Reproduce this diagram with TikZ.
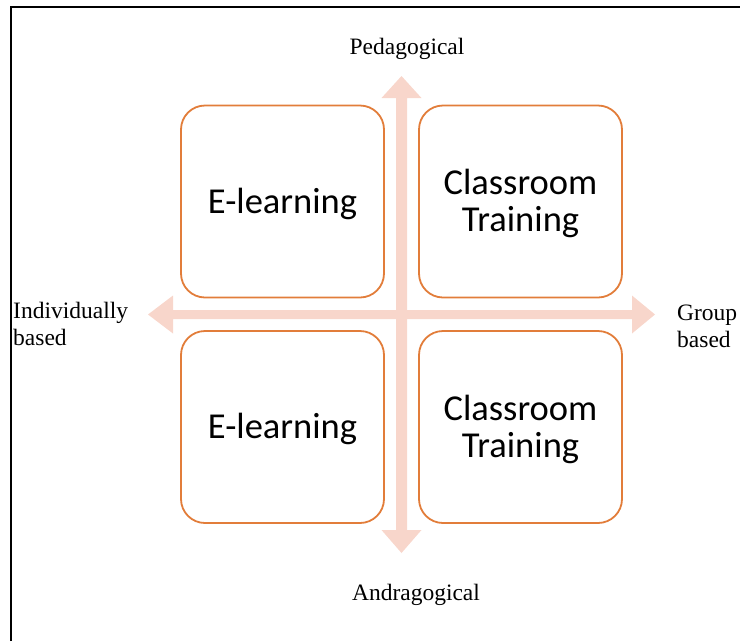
\documentclass[tikz,border=0pt]{standalone}
\usepackage{fontspec}
\setmainfont{Liberation Serif}
\newfontfamily\boxfont{Carlito}
\definecolor{arrowpeach}{RGB}{248,214,203}
\definecolor{boxorange}{RGB}{226,125,58}
\begin{document}
\begin{tikzpicture}[x=1pt,y=-1pt,
  quad/.style={draw=boxorange, fill=white, line width=1.8pt, rounded corners=24pt,
    minimum width=203pt, minimum height=192pt, align=center, inner sep=0pt,
    font=\boxfont\fontsize{36.5}{37}\selectfont},
  qtext/.style={align=center, inner sep=0pt, font=\boxfont\fontsize{36.5}{37}\selectfont},
  axislabel/.style={font=\fontsize{23.5}{27}\selectfont, inner sep=0pt}]
\useasboundingbox (0,0) rectangle (740,641);
% frame
\draw[line width=2pt] (11,641) -- (11,7) -- (740,7);
% axes
\fill[arrowpeach] (401.5,76) -- (421.5,98) -- (407,98) -- (407,530) -- (421.5,530)
  -- (401.5,553) -- (381.5,530) -- (396,530) -- (396,98) -- (381.5,98) -- cycle;
\fill[arrowpeach] (148,314.5) -- (173,295.5) -- (173,310) -- (632,310) -- (632,295.5)
  -- (655,314.5) -- (632,333.5) -- (632,319) -- (173,319) -- (173,333.5) -- cycle;
% quadrants
\node[quad] (tl) at (282.5,201.5) {};
\node[quad] (tr) at (520.5,201.5) {};
\node[quad] (bl) at (282.5,427) {};
\node[quad] (br) at (520.5,427) {};
\node[qtext, yshift=-2pt] (tlt) at (tl.center) {E-learning};
\node[qtext, yshift=-2pt] (trt) at (tr.center) {Classroom\\Training};
\node[qtext, yshift=-2pt] (blt) at (bl.center) {E-learning};
\node[qtext, yshift=-2pt] (brt) at (br.center) {Classroom\\Training};
% labels
\node[axislabel, anchor=base] (ped) at (407,54) {Pedagogical};
\node[axislabel, anchor=base] (andr) at (416,600) {Andragogical};
\node[axislabel, anchor=base west, align=left] (ind) at (13,345) {Individually\\based};
\node[axislabel, anchor=base west, align=left] (grp) at (677,347) {Group\\based};
\end{tikzpicture}
\end{document}
